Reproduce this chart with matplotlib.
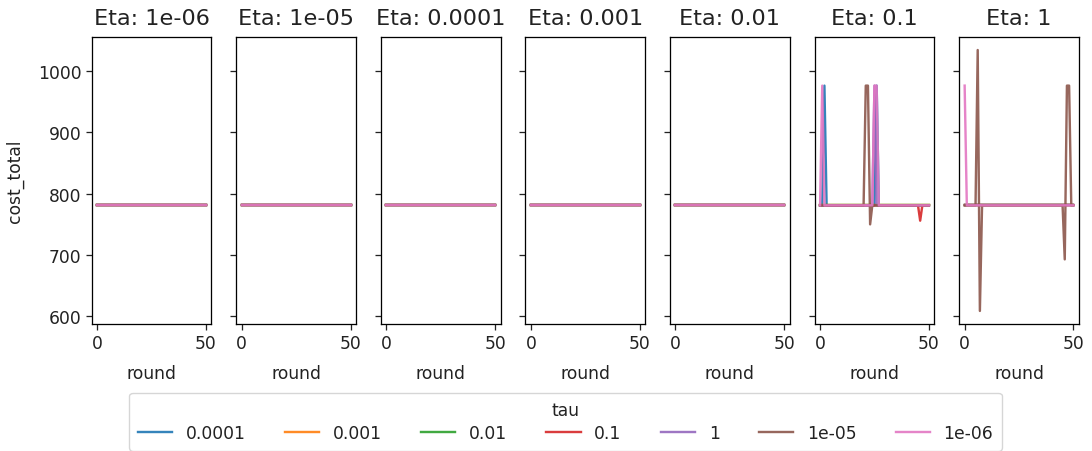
import numpy as np
import matplotlib
matplotlib.use("Agg")
import matplotlib.pyplot as plt

# scale factor: reference looks like a 72 dpi notebook figure blown up ~1.6x
f = 1.152
fs = 12.3
plt.rcParams.update({
    "font.size": fs,
    "axes.titlesize": 14 * f,
    "axes.labelsize": fs,
    "xtick.labelsize": fs,
    "ytick.labelsize": fs,
    "legend.fontsize": fs,
    "legend.title_fontsize": fs,
    "lines.linewidth": 1.5 * f,
    "axes.linewidth": 0.8 * f,
    "xtick.major.size": 3.5 * f,
    "ytick.major.size": 3.5 * f,
    "xtick.major.width": 0.8 * f,
    "ytick.major.width": 0.8 * f,
    "text.color": "#222222",
    "xtick.color": "#222222",
    "ytick.color": "#222222",
    "axes.labelcolor": "#222222",
})

etas = ["1e-06", "1e-05", "0.0001", "0.001", "0.01", "0.1", "1"]
taus = ["0.0001", "0.001", "0.01", "0.1", "1", "1e-05", "1e-06"]
tau_colors = ["#1f77b4", "#ff7f0e", "#2ca02c", "#d62728",
              "#9467bd", "#8c564b", "#e377c2"]

rounds = np.arange(0, 51)
base_cost = 781  # cost_total where nothing happens

# rounds where cost_total leaves the base level, per (eta, tau)
eta_01_changes = {
    "0.0001": {2: 976, 26: 976},
    "0.1": {46: 756},
    "1": {25: 976},
    "1e-05": {21: 976, 22: 976, 23: 750},
    "1e-06": {1: 976, 25: 976, 26: 976},
}
eta_1_changes = {
    "1e-05": {6: 1034, 7: 609, 46: 693, 47: 976, 48: 976},
    "1e-06": {0: 976},
}
changes = {"0.1": eta_01_changes, "1": eta_1_changes}

fig, axes = plt.subplots(1, len(etas), figsize=(10.92, 4.52), dpi=100,
                         sharex=True, sharey=True)
fig.subplots_adjust(left=0.084, right=0.988, top=0.916, bottom=0.281,
                    wspace=0.208)

for ax, eta in zip(axes, etas):
    panel = changes.get(eta, {})
    for tau, col in zip(taus, tau_colors):
        cost = np.full(len(rounds), float(base_cost))
        for r, v in panel.get(tau, {}).items():
            cost[r] = v
        ax.plot(rounds, cost, color=col, label=tau, alpha=0.9)
    ax.set_title(f"Eta: {eta}", pad=9)
    ax.set_xlabel("round", labelpad=8)

axes[0].set_ylabel("cost_total", labelpad=10)
axes[0].set_xticks([0, 50])
axes[0].set_yticks([600, 700, 800, 900, 1000])

handles, labels = axes[0].get_legend_handles_labels()
fig.legend(handles, labels, title="tau", ncol=7, loc="upper center",
           bbox_to_anchor=(565.5 / 1092, 1 - 385 / 452),
           columnspacing=2.3, handlelength=2.0, borderpad=0.5,
           labelspacing=0.3)

plt.savefig("out.png", dpi=100)
